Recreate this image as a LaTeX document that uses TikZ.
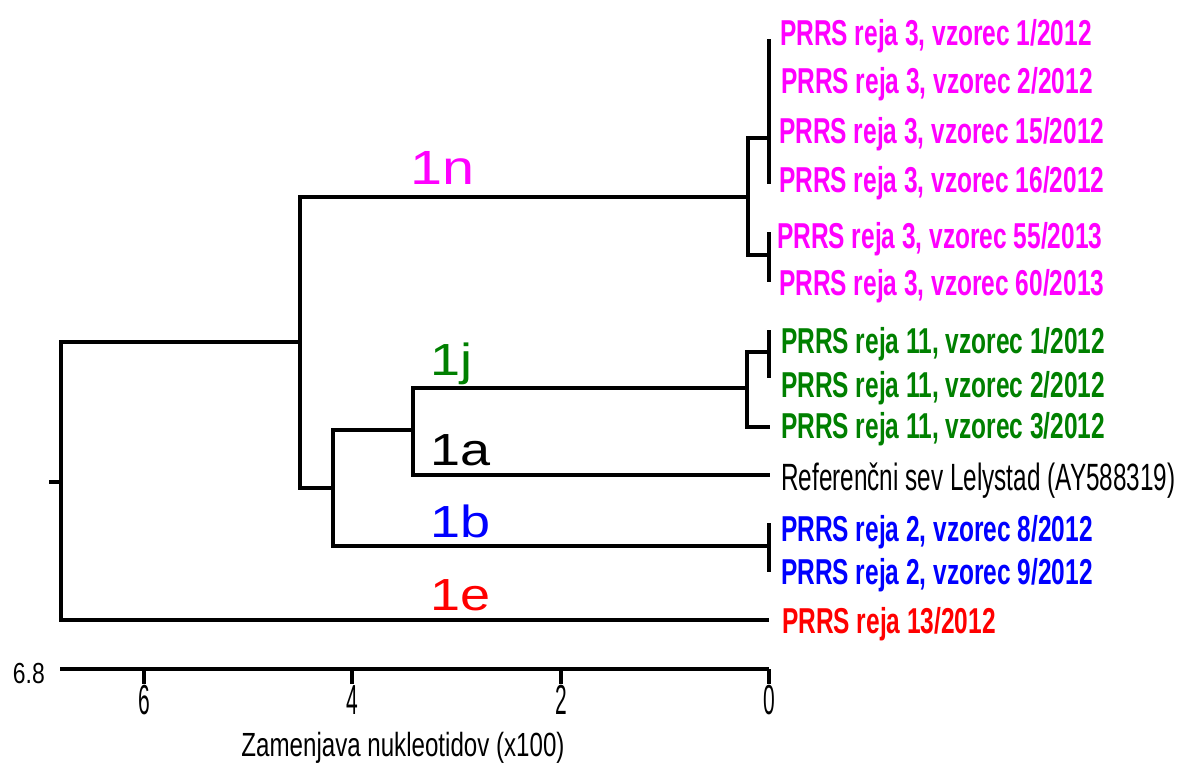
\documentclass[tikz,border=0pt]{standalone}
\usepackage{fontspec}
\setmainfont{Liberation Sans}
\newfontfamily\leaffont[FakeStretch=0.68]{Liberation Sans}
\newfontfamily\reffont[FakeStretch=0.64]{Liberation Sans}
\newfontfamily\cladefont[FakeStretch=1.2]{Liberation Sans}
\newfontfamily\tickfont[FakeStretch=0.5]{Liberation Sans}
\newfontfamily\maxfont[FakeStretch=0.79]{Liberation Sans}
\newfontfamily\titlefont[FakeStretch=0.72]{Liberation Sans}
\definecolor{cmag}{HTML}{FF00FF}
\definecolor{cgreen}{HTML}{008000}
\definecolor{cblue}{HTML}{0000FF}
\definecolor{cred}{HTML}{FF0000}
\tikzset{
  branch/.style={line width=3.2pt, line join=miter, line cap=butt, black},
  leaf/.style={anchor=base west, inner sep=0pt, font=\leaffont\bfseries\fontsize{36}{36}\selectfont},
  reflabel/.style={anchor=base west, inner sep=0pt, font=\reffont\fontsize{38}{38}\selectfont},
  clade/.style={anchor=base west, inner sep=0pt, font=\cladefont\fontsize{45}{45}\selectfont},
  ticklabel/.style={anchor=base, inner sep=0pt, font=\tickfont\fontsize{42}{42}\selectfont},
}
\begin{document}
\begin{tikzpicture}[x=1pt,y=-1pt]
\useasboundingbox (0,0) rectangle (1190,772);
% tree coordinates
\coordinate (R) at (61,482);
\coordinate (Rs) at (49,482);
\coordinate (A) at (300,342);
\coordinate (E) at (748,197);
\coordinate (Et) at (769,138);
\coordinate (Eb) at (769,255);
\coordinate (B) at (333,488);
\coordinate (C) at (413,430);
\coordinate (J) at (747,388);
\coordinate (Jt) at (769,352);
\coordinate (j3) at (770,427);
\coordinate (lely) at (770,475);
\coordinate (Bl) at (769,546);
\coordinate (e1) at (769,620);
% brackets
\draw[branch] (Rs) -- (R);
\draw[branch] (A) -- (R|-A) -- (R|-e1) -- (e1);
\draw[branch] (E) -- (A|-E) -- (A|-B) -- (B);
\draw[branch] (Et) -- (E|-Et) -- (E|-Eb) -- (Eb);
\draw[branch] (C) -- (B|-C) -- (B|-Bl) -- (Bl);
\draw[branch] (J) -- (C|-J) -- (C|-lely) -- (lely);
\draw[branch] (Jt) -- (J|-Jt) -- (J|-j3) -- (j3);
% terminal ticks
\coordinate (Et1) at (769,39);  \coordinate (Et2) at (769,184);
\coordinate (Eb1) at (769,232); \coordinate (Eb2) at (769,282);
\coordinate (Jt1) at (769,330); \coordinate (Jt2) at (769,378);
\coordinate (Bl1) at (769,523); \coordinate (Bl2) at (769,572);
\draw[branch] (Et1) -- (Et2);
\draw[branch] (Eb1) -- (Eb2);
\draw[branch] (Jt1) -- (Jt2);
\draw[branch] (Bl1) -- (Bl2);
% leaf labels
\node[leaf, text=cmag] (m1) at (780,45) {PRRS reja 3, vzorec 1/2012};
\node[leaf, text=cmag] (m2) at (781,93) {PRRS reja 3, vzorec 2/2012};
\node[leaf, text=cmag] (m15) at (779,143) {PRRS reja 3, vzorec 15/2012};
\node[leaf, text=cmag] (m16) at (779,192) {PRRS reja 3, vzorec 16/2012};
\node[leaf, text=cmag] (m55) at (777,248) {PRRS reja 3, vzorec 55/2013};
\node[leaf, text=cmag] (m60) at (779,295) {PRRS reja 3, vzorec 60/2013};
\node[leaf, text=cgreen] (g1) at (781,353) {PRRS reja 11, vzorec 1/2012};
\node[leaf, text=cgreen] (g2) at (781,397) {PRRS reja 11, vzorec 2/2012};
\node[leaf, text=cgreen] (g3) at (781,438) {PRRS reja 11, vzorec 3/2012};
\node[reflabel] (ref) at (781,490) {Referenčni sev Lelystad (AY588319)};
\node[leaf, text=cblue] (b8) at (781,541) {PRRS reja 2, vzorec 8/2012};
\node[leaf, text=cblue] (b9) at (781,584) {PRRS reja 2, vzorec 9/2012};
\node[leaf, text=cred] (r13) at (782,633) {PRRS reja 13/2012};
% clade labels
\node[clade, text=cmag, font=\cladefont\fontsize{48}{48}\selectfont] (c1n) at (410,184) {1n};
\node[clade, text=cgreen] (c1j) at (430,375) {1j};
\node[clade, text=black] (c1a) at (430,465) {1a};
\node[clade, text=cblue] (c1b) at (430,537) {1b};
\node[clade, text=cred] (c1e) at (430,610) {1e};
% axis
\coordinate (ax68) at (60,669);
\coordinate (ax0) at (769,669);
\draw[branch] (ax68) -- (ax0);
\foreach \v/\x in {6/144, 4/352, 2/561, 0/769} {
  \draw[branch] (\x,669) -- (\x,684);
  \node[ticklabel] (t\v) at (\x,714) {\v};
}
\node[anchor=base east, inner sep=0pt, font=\maxfont\fontsize{29}{29}\selectfont] (tmax) at (45,683) {6.8};
\node[anchor=base, inner sep=0pt, font=\titlefont\fontsize{33.5}{33.5}\selectfont] (title) at (403,756) {Zamenjava nukleotidov (x100)};
\end{tikzpicture}
\end{document}
